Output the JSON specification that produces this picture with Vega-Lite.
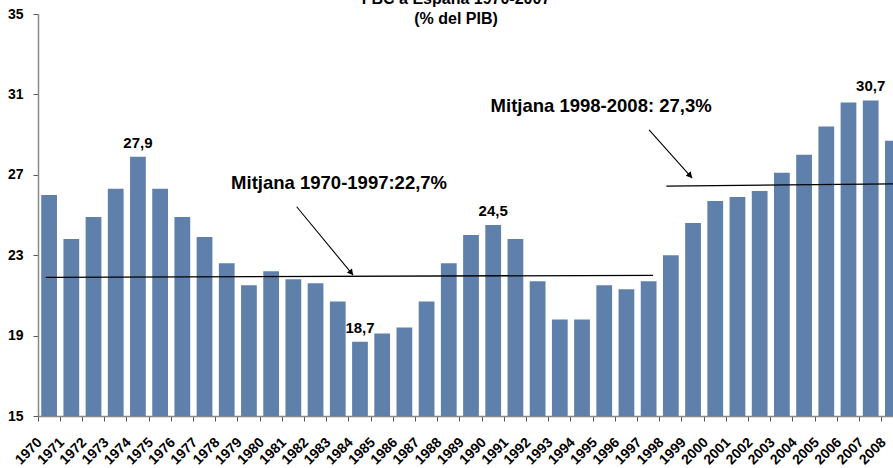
{
  "$schema": "https://vega.github.io/schema/vega-lite/v6.json",
  "width": 866,
  "height": 402,
  "autosize": {"type": "none"},
  "padding": {"left": 38, "top": 14, "right": 0, "bottom": 52},
  "background": "white",
  "config": {"font": "Liberation Sans", "view": {"stroke": null}},
  "title": {
    "text": ["FBC a España 1970-2007", "(% del PIB)"],
    "fontSize": 16,
    "fontWeight": "bold",
    "lineHeight": 20,
    "offset": -20,
    "dx": -15,
    "anchor": "middle",
    "color": "black"
  },
  "datasets": {
    "fbc": [
      {"year": "1970", "value": 26.0, "lab": ""},
      {"year": "1971", "value": 23.8, "lab": ""},
      {"year": "1972", "value": 24.9, "lab": ""},
      {"year": "1973", "value": 26.3, "lab": ""},
      {"year": "1974", "value": 27.9, "lab": "27,9"},
      {"year": "1975", "value": 26.3, "lab": ""},
      {"year": "1976", "value": 24.9, "lab": ""},
      {"year": "1977", "value": 23.9, "lab": ""},
      {"year": "1978", "value": 22.6, "lab": ""},
      {"year": "1979", "value": 21.5, "lab": ""},
      {"year": "1980", "value": 22.2, "lab": ""},
      {"year": "1981", "value": 21.8, "lab": ""},
      {"year": "1982", "value": 21.6, "lab": ""},
      {"year": "1983", "value": 20.7, "lab": ""},
      {"year": "1984", "value": 18.7, "lab": "18,7"},
      {"year": "1985", "value": 19.1, "lab": ""},
      {"year": "1986", "value": 19.4, "lab": ""},
      {"year": "1987", "value": 20.7, "lab": ""},
      {"year": "1988", "value": 22.6, "lab": ""},
      {"year": "1989", "value": 24.0, "lab": ""},
      {"year": "1990", "value": 24.5, "lab": "24,5"},
      {"year": "1991", "value": 23.8, "lab": ""},
      {"year": "1992", "value": 21.7, "lab": ""},
      {"year": "1993", "value": 19.8, "lab": ""},
      {"year": "1994", "value": 19.8, "lab": ""},
      {"year": "1995", "value": 21.5, "lab": ""},
      {"year": "1996", "value": 21.3, "lab": ""},
      {"year": "1997", "value": 21.7, "lab": ""},
      {"year": "1998", "value": 23.0, "lab": ""},
      {"year": "1999", "value": 24.6, "lab": ""},
      {"year": "2000", "value": 25.7, "lab": ""},
      {"year": "2001", "value": 25.9, "lab": ""},
      {"year": "2002", "value": 26.2, "lab": ""},
      {"year": "2003", "value": 27.1, "lab": ""},
      {"year": "2004", "value": 28.0, "lab": ""},
      {"year": "2005", "value": 29.4, "lab": ""},
      {"year": "2006", "value": 30.6, "lab": ""},
      {"year": "2007", "value": 30.7, "lab": "30,7"},
      {"year": "2008", "value": 28.7, "lab": ""}
    ],
    "lines": [
      {"x1": 0.35, "y1": 21.9, "x2": 27.7, "y2": 22.0},
      {"x1": 28.3, "y1": 26.44, "x2": 39, "y2": 26.55}
    ],
    "arrows": [
      {"x1": 11.65, "y1": 25.41, "x2": 14.19, "y2": 22.01},
      {"x1": 27.52, "y1": 29.23, "x2": 29.46, "y2": 26.84}
    ],
    "heads": [
      {"px": 14.08, "py": 22.16, "ang": 140.5},
      {"px": 29.34, "py": 26.99, "ang": 138.1}
    ],
    "notes": [
      {"px": 13.56, "py": 26.59, "t": "Mitjana 1970-1997:22,7%"},
      {"px": 25.36, "py": 30.44, "t": "Mitjana 1998-2008: 27,3%"}
    ]
  },
  "layer": [
    {
      "data": {"name": "fbc"},
      "encoding": {
        "x": {
          "field": "year",
          "type": "nominal",
          "sort": null,
          "scale": {"type": "band", "paddingInner": 0, "paddingOuter": 0},
          "axis": {
            "title": null,
            "bandPosition": 0,
            "tickSize": 5,
            "tickColor": "#555555",
            "domainColor": "#888888",
            "domainWidth": 1.5,
            "labelAngle": -45,
            "labelAlign": "right",
            "labelBaseline": "top",
            "labelOffset": -14,
            "labelPadding": 14,
            "labelFontSize": 14,
            "labelFontWeight": "bold",
            "labelColor": "black",
            "labelOverlap": false
          }
        },
        "y": {
          "field": "value",
          "type": "quantitative",
          "scale": {"domain": [15, 35], "nice": false, "zero": false},
          "axis": {
            "title": null,
            "values": [15, 19, 23, 27, 31, 35],
            "grid": false,
            "tickSize": 5,
            "tickColor": "#555555",
            "domainColor": "#888888",
            "domainWidth": 1.5,
            "labelPadding": 10,
            "labelFontSize": 14,
            "labelFontWeight": "bold",
            "labelColor": "black"
          }
        }
      },
      "layer": [
        {
          "mark": {"type": "bar", "color": "#5f80aa", "width": {"band": 0.71}},
          "encoding": {"y2": {"datum": 15}}
        },
        {
          "mark": {"type": "text", "fontSize": 15, "fontWeight": "bold", "baseline": "alphabetic", "dy": -9, "color": "black"},
          "encoding": {"text": {"field": "lab"}}
        }
      ]
    },
    {
      "data": {"name": "lines"},
      "mark": {"type": "rule", "color": "black", "strokeWidth": 1.3},
      "encoding": {
        "x": {"field": "x1", "type": "quantitative", "scale": {"domain": [0, 39], "nice": false, "zero": false}, "axis": null},
        "x2": {"field": "x2"},
        "y": {"field": "y1", "type": "quantitative", "scale": {"domain": [15, 35], "nice": false, "zero": false}, "title": null},
        "y2": {"field": "y2"}
      }
    },
    {
      "data": {"name": "arrows"},
      "mark": {"type": "rule", "color": "black", "strokeWidth": 1.1},
      "encoding": {
        "x": {"field": "x1", "type": "quantitative", "scale": {"domain": [0, 39], "nice": false, "zero": false}, "axis": null},
        "x2": {"field": "x2"},
        "y": {"field": "y1", "type": "quantitative", "scale": {"domain": [15, 35], "nice": false, "zero": false}, "title": null},
        "y2": {"field": "y2"}
      }
    },
    {
      "data": {"name": "heads"},
      "mark": {"type": "point", "shape": "triangle", "filled": true, "color": "black", "size": 45, "opacity": 1},
      "encoding": {
        "x": {"field": "px", "type": "quantitative", "scale": {"domain": [0, 39], "nice": false, "zero": false}, "axis": null},
        "y": {"field": "py", "type": "quantitative", "scale": {"domain": [15, 35], "nice": false, "zero": false}, "title": null},
        "angle": {"field": "ang", "type": "quantitative", "scale": null}
      }
    },
    {
      "data": {"name": "notes"},
      "mark": {"type": "text", "fontSize": 18.5, "fontWeight": "bold", "color": "black", "baseline": "middle", "align": "center"},
      "encoding": {
        "x": {"field": "px", "type": "quantitative", "scale": {"domain": [0, 39], "nice": false, "zero": false}, "axis": null},
        "y": {"field": "py", "type": "quantitative", "scale": {"domain": [15, 35], "nice": false, "zero": false}, "title": null},
        "text": {"field": "t"}
      }
    }
  ],
  "resolve": {"scale": {"x": "independent"}}
}
